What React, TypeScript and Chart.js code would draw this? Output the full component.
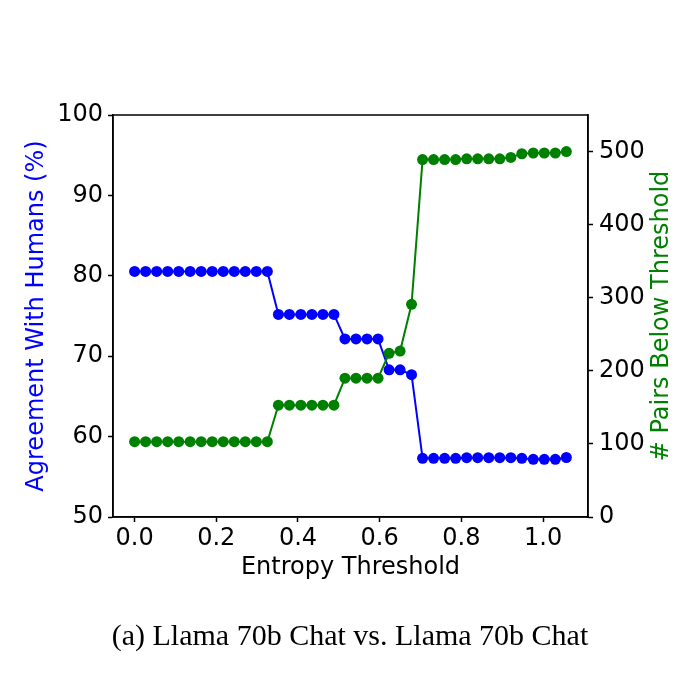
import React, { useEffect, useRef } from "react";
import { Chart, registerables } from "chart.js";

Chart.register(...registerables);

const thresholds = [
  0.0, 0.027, 0.054, 0.081, 0.108, 0.136, 0.163, 0.19, 0.217, 0.244, 0.271, 0.298, 0.325,
  0.352, 0.379, 0.407, 0.434, 0.461, 0.488, 0.515, 0.542, 0.569, 0.596, 0.623, 0.65, 0.678,
  0.705, 0.732, 0.759, 0.786, 0.813, 0.84, 0.867, 0.894, 0.921, 0.948, 0.976, 1.003, 1.03, 1.057,
];

const agreement = [
  80.55, 80.55, 80.55, 80.55, 80.55, 80.55, 80.55, 80.55, 80.55, 80.55, 80.55, 80.55, 80.55,
  75.2, 75.2, 75.2, 75.2, 75.2, 75.2,
  72.15, 72.15, 72.15, 72.15,
  68.3, 68.3, 67.7,
  57.3, 57.3, 57.3, 57.3, 57.38, 57.38, 57.38, 57.38, 57.38, 57.3, 57.18, 57.18, 57.18, 57.4,
];

const pairsBelow = [
  103, 103, 103, 103, 103, 103, 103, 103, 103, 103, 103, 103, 103,
  153, 153, 153, 153, 153, 153,
  190, 190, 190, 190,
  224, 227, 291,
  489, 489, 489, 489, 490, 490, 490, 490, 492, 497, 498, 498, 498, 500,
];

const xTicks = [0.0, 0.2, 0.4, 0.6, 0.8, 1.0];
const leftTicks = [50, 60, 70, 80, 90, 100];
const rightTicks = [0, 100, 200, 300, 400, 500];

const xTitle = "Entropy Threshold";
const leftTitle = "Agreement With Humans (%)";
const rightTitle = "# Pairs Below Threshold";
const caption = "(a) Llama 70b Chat vs. Llama 70b Chat";

const BLUE = "#0000ff";
const GREEN = "#008000";
const SANS = "'DejaVu Sans', sans-serif";

export default function App() {
  const ref = useRef<HTMLCanvasElement | null>(null);

  useEffect(() => {
    document.body.style.margin = "0";
    const canvas = ref.current;
    if (!canvas) return;

    const extras = {
      id: "extras",
      afterDraw(chart: any) {
        const { ctx, chartArea } = chart;
        ctx.save();
        ctx.strokeStyle = "#000";
        ctx.lineWidth = 1.5;
        ctx.strokeRect(chartArea.left, chartArea.top, chartArea.right - chartArea.left, chartArea.bottom - chartArea.top);

        const cy = (chartArea.top + chartArea.bottom) / 2;
        ctx.translate(662, cy);
        ctx.rotate(-Math.PI / 2);
        ctx.fillStyle = GREEN;
        ctx.font = `24px ${SANS}`;
        ctx.textAlign = "center";
        ctx.textBaseline = "middle";
        ctx.fillText(rightTitle, 0, 0);
        ctx.restore();

        ctx.save();
        ctx.fillStyle = "#000";
        ctx.font = "30px 'Liberation Serif', serif";
        ctx.textAlign = "center";
        ctx.textBaseline = "alphabetic";
        ctx.fillText(caption, 350, 645);
        ctx.restore();
      },
    };

    const tickFont = { family: SANS, size: 24 };
    const grid = {
      display: true,
      drawOnChartArea: false,
      drawTicks: true,
      tickLength: 5,
      tickWidth: 1.5,
      tickColor: "#000",
    };
    const border = { display: true, color: "#000", width: 1.5 };

    const chart = new Chart(canvas, {
      type: "line",
      data: {
        datasets: [
          {
            label: "agreement",
            data: thresholds.map((x, i) => ({ x, y: agreement[i] })),
            yAxisID: "y",
            borderColor: BLUE,
            backgroundColor: BLUE,
            pointBackgroundColor: BLUE,
            pointBorderWidth: 0,
            pointRadius: 5.5,
            borderWidth: 2,
            order: 1,
          },
          {
            label: "pairs",
            data: thresholds.map((x, i) => ({ x, y: pairsBelow[i] })),
            yAxisID: "y1",
            borderColor: GREEN,
            backgroundColor: GREEN,
            pointBackgroundColor: GREEN,
            pointBorderWidth: 0,
            pointRadius: 5.5,
            borderWidth: 2,
            order: 0,
          },
        ],
      },
      options: {
        responsive: false,
        animation: false,
        events: [],
        layout: { padding: { top: 115, bottom: 100, left: 0, right: 0 } },
        plugins: { legend: { display: false }, tooltip: { enabled: false } },
        scales: {
          x: {
            type: "linear",
            position: "bottom",
            min: -0.0529,
            max: 1.11,
            afterBuildTicks: (s: any) => {
              s.ticks = xTicks.map((v) => ({ value: v }));
            },
            afterFit: (s: any) => {
              s.height = 83;
            },
            ticks: {
              font: tickFont,
              color: "#000",
              padding: 2,
              maxRotation: 0,
              callback: (v: any) => Number(v).toFixed(1),
            },
            grid,
            border,
            title: {
              display: true,
              text: xTitle,
              color: "#000",
              font: { family: SANS, size: 24 },
              padding: { top: 0, bottom: 18 },
            },
          },
          y: {
            type: "linear",
            position: "left",
            min: 50,
            max: 100,
            afterBuildTicks: (s: any) => {
              s.ticks = leftTicks.map((v) => ({ value: v }));
            },
            afterFit: (s: any) => {
              s.width = 113;
            },
            ticks: { font: tickFont, color: "#000", padding: 5 },
            grid,
            border,
            title: {
              display: true,
              text: leftTitle,
              color: BLUE,
              font: { family: SANS, size: 24 },
              padding: { top: 22, bottom: 0 },
            },
          },
          y1: {
            type: "linear",
            position: "right",
            min: 0,
            max: 550,
            afterBuildTicks: (s: any) => {
              s.ticks = rightTicks.map((v) => ({ value: v }));
            },
            afterFit: (s: any) => {
              s.width = 112;
            },
            ticks: { font: tickFont, color: "#000", padding: 6 },
            grid,
            border,
          },
        },
      },
      plugins: [extras],
    });

    return () => chart.destroy();
  }, []);

  return (
    <div style={{ position: "absolute", left: 0, top: 0, width: 700, height: 700, background: "#fff" }}>
      <canvas ref={ref} width={700} height={700} style={{ display: "block", width: 700, height: 700 }} />
    </div>
  );
}
